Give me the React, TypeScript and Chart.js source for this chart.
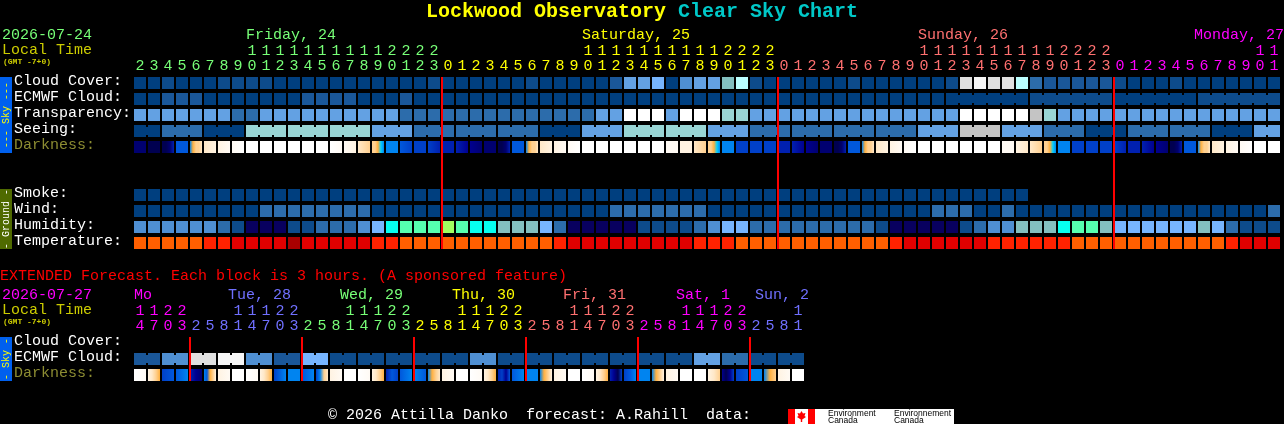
import React, { useEffect, useRef } from "react";
import { Chart, registerables } from "chart.js";

Chart.register(...registerables);

const FONT = "'Liberation Mono', monospace";

// value classes -> colours
const palette = [
  "#003F7F", "#0D4B8B", "#1A5799", "#2C6CAB", "#4F8FD2", "#63A1E3", "#77B5FE", "#83BFBF",
  "#99D5D5", "#BBFFFF", "#C4C4C4", "#E0E0E0", "#F6F6F6", "#FFFFFF", "#08005F", "#06FFF0",
  "#55FFAF", "#A0FF60", "#FF5F00", "#FF2200", "#E00000", "#A90000",
];
const shades: Record<string, string> = {
  a: "#000050", b: "#000070", c: "#000090", d: "#0020B0", e: "#0040C8", f: "#0058DC", g: "#0084F0",
  h: "#00D0FF", i: "#FFB040", j: "#FFD090", k: "#FFE8C8", l: "#FFF3E2", m: "#FFFAF4", n: "#FFFFFF",
};

const mainHours = [
  2, 3, 4, 5, 6, 7, 8, 9, 10, 11, 12, 13, 14, 15, 16, 17, 18, 19, 20, 21, 22, 23,
  0, 1, 2, 3, 4, 5, 6, 7, 8, 9, 10, 11, 12, 13, 14, 15, 16, 17, 18, 19, 20, 21, 22, 23,
  0, 1, 2, 3, 4, 5, 6, 7, 8, 9, 10, 11, 12, 13, 14, 15, 16, 17, 18, 19, 20, 21, 22, 23,
  0, 1, 2, 3, 4, 5, 6, 7, 8, 9, 10, 11,
];
const extHours = [
  14, 17, 20, 23, 2, 5, 8, 11, 14, 17, 20, 23, 2, 5, 8, 11, 14, 17, 20, 23, 2, 5, 8, 11,
  14, 17, 20, 23, 2, 5, 8, 11, 14, 17, 20, 23, 2, 5, 8, 11, 14, 17, 20, 23, 2, 5, 8, 11,
];

const cloudCover = [
  0, 0, 1, 0, 0, 0, 1, 1, 1, 1, 0, 0, 0, 0, 0, 0, 0, 0, 0, 0, 0, 1, 0, 0, 0, 0, 0, 0, 1, 0,
  0, 0, 0, 0, 2, 5, 5, 6, 0, 4, 5, 5, 7, 9, 1, 0, 0, 0, 0, 0, 0, 1, 0, 0, 0, 0, 0, 0, 1, 11,
  12, 11, 11, 9, 3, 2, 2, 2, 2, 2, 1, 0, 0, 0, 1, 0, 0, 0, 0, 0, 0, 0,
];
const ecmwfCloud = [
  0, 0, 2, 2, 2, 0, 0, 0, 0, 0, 0, 0, 2, 2, 2, 2, 0, 0, 0, 2, 0, 0, 0, 0, 0, 0, 0, 0, 0, 0,
  0, 0, 0, 0, 0, 0, 0, 0, 0, 0, 0, 0, 0, 0, 0, 0, 0, 0, 0, 0, 0, 0, 0, 0, 0, 0, 0, 0, 0, 0,
  0, 0, 0, 0, 1, 1, 1, 1, 1, 1, 0, 0, 0, 0, 0, 0, 1, 1, 1, 1, 1, 1,
];
const transparency = [
  5, 5, 5, 5, 5, 5, 5, 3, 3, 5, 5, 5, 5, 5, 5, 5, 5, 5, 5, 3, 3, 3, 3, 3, 3, 3, 3, 3, 3, 3,
  3, 3, 3, 5, 5, 13, 13, 13, 5, 13, 13, 13, 8, 8, 5, 5, 5, 5, 5, 5, 5, 5, 5, 5, 5, 5, 5, 5, 5, 13,
  13, 13, 13, 13, 10, 8, 5, 5, 5, 5, 5, 5, 5, 5, 5, 5, 5, 5, 5, 5, 5, 5,
];
const seeing = [
  0, 0, 3, 3, 3, 0, 0, 0, 8, 8, 8, 8, 8, 8, 8, 8, 8, 5, 5, 5, 3, 3, 3, 3, 3, 3, 3, 3, 3, 0,
  0, 0, 5, 5, 5, 8, 8, 8, 8, 8, 8, 5, 5, 5, 3, 3, 3, 3, 3, 3, 3, 3, 3, 3, 3, 3, 5, 5, 5, 10,
  10, 10, 5, 5, 5, 3, 3, 3, 0, 0, 0, 3, 3, 3, 3, 3, 3, 0, 0, 0, 5, 5,
];
const darkness = [
  "b", "a", "aabd", "f", "gijjk", "kl", "lm", "mn", "n", "n", "n", "n", "n", "n", "nm", "ml", "kj", "jjihg", "g", "fe", "e", "ed",
  "d", "dc", "cb", "b", "aabd", "f", "gijjk", "kl", "lm", "mn", "n", "n", "n", "n", "n", "n", "m", "l", "kj", "jjihg", "g", "e", "e", "e",
  "d", "dc", "cb", "b", "aabd", "f", "gijjk", "kl", "lm", "mn", "n", "n", "n", "n", "n", "n", "m", "lk", "kj", "jjihg", "g", "e", "e", "e",
  "ed", "d", "dc", "cb", "aabd", "f", "gijjk", "kl", "lm", "mn", "n", "n",
];
const smoke = [
  0, 0, 0, 0, 0, 0, 0, 0, 0, 0, 0, 0, 0, 0, 0, 0, 0, 0, 0, 0, 0, 0, 0, 0, 0, 0, 0, 0, 0, 0, 0, 0,
  0, 0, 0, 0, 0, 0, 0, 0, 0, 0, 0, 0, 0, 0, 0, 0, 0, 0, 0, 0, 0, 0, 0, 0, 0, 0, 0, 0, 0, 0, 0, 0,
];
const wind = [
  0, 0, 0, 0, 0, 0, 0, 0, 0, 3, 3, 3, 3, 3, 3, 3, 3, 0, 0, 0, 0, 0, 0, 0, 0, 0, 0, 0, 0, 0,
  0, 0, 0, 0, 3, 3, 3, 3, 3, 3, 3, 0, 0, 0, 0, 0, 0, 0, 0, 0, 0, 0, 0, 0, 0, 0, 0, 3, 3, 3,
  0, 0, 3, 0, 0, 0, 0, 0, 0, 0, 0, 0, 0, 0, 0, 0, 0, 0, 0, 0, 0, 3,
];
const humidity = [
  4, 4, 4, 4, 4, 4, 3, 1, 14, 14, 14, 1, 1, 3, 3, 3, 4, 6, 15, 16, 16, 16, 17, 16, 15, 15, 7, 7, 7, 6,
  3, 14, 14, 14, 14, 14, 1, 1, 1, 1, 3, 4, 6, 6, 3, 3, 3, 3, 3, 3, 3, 3, 3, 1, 14, 14, 14, 14, 14, 1,
  3, 4, 4, 7, 7, 7, 15, 16, 16, 7, 6, 6, 6, 6, 6, 6, 7, 6, 3, 1, 1, 1,
];
const temperature = [
  18, 18, 18, 18, 18, 19, 19, 20, 20, 20, 20, 21, 20, 20, 20, 20, 20, 19, 19, 18, 18, 18, 18, 18, 18, 18, 18, 18, 18, 18,
  19, 20, 20, 20, 20, 20, 20, 20, 20, 20, 19, 19, 19, 18, 18, 18, 18, 18, 18, 18, 18, 18, 18, 18, 19, 20, 20, 20, 20, 20,
  20, 19, 19, 19, 19, 19, 19, 18, 18, 18, 18, 18, 18, 18, 18, 18, 18, 18, 19, 20, 20, 20,
];
const extEcmwf = [
  2, 2, 4, 4, 11, 11, 12, 12, 4, 4, 2, 2, 6, 6, 1, 1, 1, 1, 1, 1, 1, 1, 1, 1,
  4, 4, 1, 1, 1, 1, 1, 1, 1, 1, 1, 1, 1, 1, 1, 1, 5, 5, 3, 3, 1, 1, 1, 1,
];
const extDarkness = [
  "nm", "lkji", "ef", "fg", "dcb", "gfijl", "lm", "n", "nm", "lkji", "eg", "g", "fg", "egjk", "lm", "n",
  "nm", "lkji", "dfe", "fg", "gf", "gijk", "lm", "n", "nm", "lkji", "decf", "fg", "g", "gijl", "lm", "n",
  "nm", "lkji", "dcae", "efg", "g", "gijl", "lm", "n", "n", "lkj", "cace", "ef", "g", "gij", "lm", "n",
];

const mainDays = [
  { text: "Friday, 24", color: "#77FF77", cells: 22, x: 246 },
  { text: "Saturday, 25", color: "#FFFF00", cells: 24, x: 582 },
  { text: "Sunday, 26", color: "#FF7070", cells: 24, x: 918 },
  { text: "Monday, 27", color: "#FF00FF", cells: 12, x: 1194 },
];
const extDays = [
  { text: "Mo", color: "#FF00FF", cells: 4, x: 134 },
  { text: "Tue, 28", color: "#7070FF", cells: 8, x: 228 },
  { text: "Wed, 29", color: "#77FF77", cells: 8, x: 340 },
  { text: "Thu, 30", color: "#FFFF00", cells: 8, x: 452 },
  { text: "Fri, 31", color: "#FF7070", cells: 8, x: 563 },
  { text: "Sat, 1", color: "#FF00FF", cells: 8, x: 676 },
  { text: "Sun, 2", color: "#7070FF", cells: 4, x: 755 },
];
const rowLabels = [
  { r: 0, text: "Cloud Cover:", color: "#FFFFFF" },
  { r: 1, text: "ECMWF Cloud:", color: "#FFFFFF" },
  { r: 2, text: "Transparency:", color: "#FFFFFF" },
  { r: 3, text: "Seeing:", color: "#FFFFFF" },
  { r: 4, text: "Darkness:", color: "#8C8C32" },
  { r: 7, text: "Smoke:", color: "#FFFFFF" },
  { r: 8, text: "Wind:", color: "#FFFFFF" },
  { r: 9, text: "Humidity:", color: "#FFFFFF" },
  { r: 10, text: "Temperature:", color: "#FFFFFF" },
  { r: 16.25, text: "Cloud Cover:", color: "#FFFFFF" },
  { r: 17.25, text: "ECMWF Cloud:", color: "#FFFFFF" },
  { r: 18.25, text: "Darkness:", color: "#8C8C32" },
];
const mainRedLines = [22, 46, 70];
const extRedLines = [4, 12, 20, 28, 36, 44];

const W = 1284;
const H = 424;
const pxX = (px: number) => (px - 140) / 14;
const pxY = (px: number) => (px - 83) / 16;
const half = 0.375;
const redShift = 6 / 14; // red lines sit at the left edge of their cell

const colorsFromDays = (days: { color: string; cells: number }[]) =>
  days.flatMap((d) => Array.from({ length: d.cells }, () => d.color));

function noPadding(a: any) {
  a.paddingLeft = 0;
  a.paddingRight = 0;
  a.paddingTop = 0;
  a.paddingBottom = 0;
}

function cells(values: number[], r: number) {
  return {
    type: "bar" as const,
    order: 2,
    grouped: false,
    barThickness: 12,
    inflateAmount: 0,
    borderWidth: 0,
    data: values.map((_, i) => ({ x: i, y: [r - half, r + half] })),
    backgroundColor: values.map((v) => palette[v]),
  };
}
function links(values: number[], r: number, isBreak: (i: number) => boolean) {
  const idx = values.map((_, i) => i).filter((i) => i < values.length - 1 && !isBreak(i + 1));
  return {
    type: "bar" as const,
    order: 3,
    grouped: false,
    barThickness: 2,
    inflateAmount: 0,
    borderWidth: 0,
    data: idx.map((i) => ({ x: i + 0.5, y: [r - 0.25, r + 0.25] })),
    backgroundColor: idx.map((i) => palette[values[i]]),
  };
}
function shaded(codes: string[], r: number) {
  return {
    type: "bar" as const,
    order: 2,
    grouped: false,
    barThickness: 12,
    inflateAmount: 0,
    borderWidth: 0,
    data: codes.map((_, i) => ({ x: i, y: [r - half, r + half] })),
    backgroundColor: (ctx: any) => {
      const code = codes[ctx.dataIndex] ?? "n";
      const c = ctx.chart.scales.x?.getPixelForValue(ctx.dataIndex);
      if (code.length === 1 || !Number.isFinite(c)) return shades[code[0]];
      const g = ctx.chart.ctx.createLinearGradient(c - 6, 0, c + 6, 0);
      [...code].forEach((k, j) => g.addColorStop(j / (code.length - 1), shades[k]));
      return g;
    },
  };
}
function vbar(xs: number[], from: number, to: number, color: string, thick: number) {
  return {
    type: "bar" as const,
    order: 1,
    grouped: false,
    barThickness: thick,
    inflateAmount: 0,
    borderWidth: 0,
    data: xs.map((x) => ({ x, y: [from, to] })),
    backgroundColor: color,
  };
}
function hourAxis(hours: number[], colors: string[], kind: "tens" | "ones", centerPx: number) {
  return {
    type: "linear" as const,
    axis: "x",
    offset: false,
    position: { y: pxY(centerPx - 9) },
    min: -10,
    max: pxX(W),
    afterFit: (a: any) => {
      a.height = 0;
      noPadding(a);
    },
    afterBuildTicks: (a: any) => {
      a.ticks = hours.map((_, i) => ({ value: i }));
    },
    grid: { display: false, drawTicks: false },
    border: { display: false },
    ticks: {
      autoSkip: false,
      maxRotation: 0,
      minRotation: 0,
      padding: 0,
      font: { family: FONT, size: 15 },
      color: (c: any) => colors[c.index],
      callback: (_: any, i: number) => {
        const h = hours[i];
        if (kind === "ones") return String(h % 10);
        return h >= 10 ? String(Math.floor(h / 10)) : "";
      },
    },
  };
}

const textPlugin = {
  id: "texts",
  beforeDraw(chart: any) {
    const c = chart.ctx;
    c.save();
    c.fillStyle = "#000";
    c.fillRect(0, 0, W, H);
    c.restore();
  },
  afterDraw(chart: any) {
    const c: CanvasRenderingContext2D = chart.ctx;
    c.save();
    c.textBaseline = "middle";
    c.textAlign = "left";
    const t = (s: string, x: number, y: number, color: string, font = `15px ${FONT}`) => {
      c.font = font;
      c.fillStyle = color;
      c.fillText(s, x, y);
    };
    const title = `bold 20px ${FONT}`;
    t("Lockwood Observatory", 426, 12, "#FFFF00", title);
    t("Clear Sky Chart", 678, 12, "#00C8C8", title);
    t("2026-07-24", 2, 35, "#77FF77");
    t("Local Time", 2, 50, "#CCCC00");
    t("(GMT -7+0)", 3, 62, "#CCCC00", `bold 8px ${FONT}`);
    mainDays.forEach((d) => t(d.text, d.x, 35, d.color));
    t("EXTENDED Forecast. Each block is 3 hours. (A sponsored feature)", 0, 276, "#FF0000");
    t("2026-07-27", 2, 295, "#FF00FF");
    t("Local Time", 2, 310, "#CCCC00");
    t("(GMT -7+0)", 3, 322, "#CCCC00", `bold 8px ${FONT}`);
    extDays.forEach((d) => t(d.text, d.x, 295, d.color));
    t("\u00A9 2026 Attilla Danko  forecast: A.Rahill  data:", 328, 415, "#FFFFFF");

    const side = (s: string, y: number, color: string) => {
      c.save();
      c.translate(6, y);
      c.rotate(-Math.PI / 2);
      c.textAlign = "center";
      c.font = `10px ${FONT}`;
      c.fillStyle = color;
      c.fillText(s, 0, 0);
      c.restore();
    };
    side("--- Sky ---", 115, "#FFFF00");
    side("- Ground -", 219, "#FFFFFF");
    side("- Sky -", 359, "#FFFF00");

    // logo
    c.fillStyle = "#FFFFFF";
    c.fillRect(788, 409, 166, 15);
    c.fillStyle = "#FF0000";
    c.fillRect(788, 409, 7, 15);
    c.fillRect(808, 409, 7, 15);
    c.beginPath();
    [[801.5, 411], [803, 413.5], [805.5, 413], [804.5, 416], [806, 417], [802.2, 419.5], [802.2, 422], [800.8, 422], [800.8, 419.5], [797, 417], [798.5, 416], [797.5, 413], [800, 413.5]].forEach(
      ([x, y], i) => (i ? c.lineTo(x, y) : c.moveTo(x, y))
    );
    c.closePath();
    c.fill();
    const small = "8.5px 'Liberation Sans', sans-serif";
    t("Environment", 828, 414, "#000000", small);
    t("Canada", 828, 421, "#000000", small);
    t("Environnement", 894, 414, "#000000", small);
    t("Canada", 894, 421, "#000000", small);
    c.restore();
  },
};

export default function App() {
  const ref = useRef<HTMLCanvasElement>(null);
  useEffect(() => {
    document.body.style.margin = "0";
    document.body.style.background = "#000";
    const mainColors = colorsFromDays(mainDays);
    const extColors = colorsFromDays(extDays);
    const extR = [16.25, 17.25, 18.25];
    const chart = new Chart(ref.current as HTMLCanvasElement, {
      type: "bar",
      data: {
        datasets: [
          links(ecmwfCloud, 1, (i) => i < 58 || (i - 58) % 6 === 0),
          links(seeing, 3, (i) => (i - 2) % 3 === 0),
          links(extEcmwf, extR[1], (i) => i % 2 === 0),
          cells(cloudCover, 0),
          cells(ecmwfCloud, 1),
          cells(transparency, 2),
          cells(seeing, 3),
          shaded(darkness, 4),
          cells(smoke, 7),
          cells(wind, 8),
          cells(humidity, 9),
          cells(temperature, 10),
          cells(extEcmwf, extR[1]),
          shaded(extDarkness, extR[2]),
          vbar(mainRedLines.map((v) => v - redShift), -half, 10 + half, "#FF0000", 2),
          vbar(extRedLines.map((v) => v - redShift), extR[0] - half, extR[2] + half, "#FF0000", 2),
          vbar([pxX(6)], -half, 4 + half, "#0060EE", 12),
          vbar([pxX(6)], 7 - half, 10 + half, "#4F6A00", 12),
          vbar([pxX(6)], extR[0] - half, extR[2] + half, "#0060EE", 12),
        ] as any,
      },
      options: {
        responsive: false,
        animation: false,
        devicePixelRatio: 1,
        layout: { padding: 0 },
        plugins: { legend: { display: false }, title: { display: false }, tooltip: { enabled: false } },
        scales: {
          x: { type: "linear", offset: false, min: -10, max: pxX(W), display: false },
          y: {
            type: "linear",
            position: "left",
            reverse: true,
            min: pxY(0),
            max: pxY(H),
            afterFit: (a: any) => {
              a.width = 0;
              noPadding(a);
            },
            afterBuildTicks: (a: any) => {
              a.ticks = rowLabels.map((l) => ({ value: l.r - 2 / 16 }));
            },
            grid: { display: false, drawTicks: false },
            border: { display: false },
            ticks: {
              mirror: true,
              crossAlign: "near",
              padding: 14,
              font: { family: FONT, size: 15 },
              color: (c: any) => rowLabels[c.index]?.color ?? "#FFFFFF",
              callback: (_: any, i: number) => rowLabels[i].text,
            },
          },
          xTens: hourAxis(mainHours, mainColors, "tens", 51),
          xOnes: hourAxis(mainHours, mainColors, "ones", 66),
          xExtTens: hourAxis(extHours, extColors, "tens", 311),
          xExtOnes: hourAxis(extHours, extColors, "ones", 326),
        } as any,
      },
      plugins: [textPlugin],
    });
    return () => chart.destroy();
  }, []);
  return <canvas ref={ref} width={W} height={H} style={{ display: "block" }} />;
}
